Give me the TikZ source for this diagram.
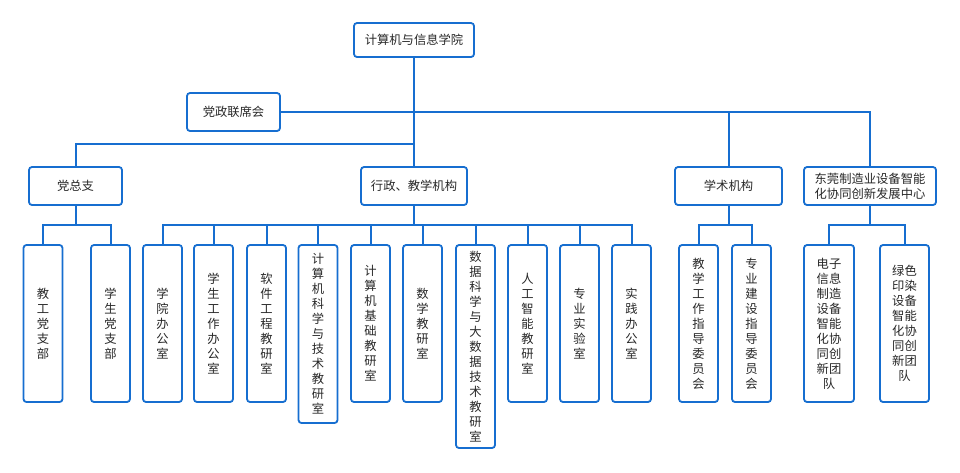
\documentclass[tikz,border=0pt]{standalone}
\usepackage{fontspec}
\setmainfont{Noto Sans CJK SC}
\definecolor{lineblue}{RGB}{22,110,208}
\definecolor{txt}{RGB}{40,40,40}
\begin{document}
\begin{tikzpicture}[x=1pt,y=-1pt,
  box/.style={draw=lineblue,line width=1.8pt,rounded corners=3pt,fill=white,text=txt,
    inner sep=0pt,align=center,font=\fontsize{12.3pt}{15pt}\selectfont},
  topbox/.style={box,minimum height=38pt},
  cbox/.style={box,minimum width=39pt},
  link/.style={draw=lineblue,line width=2pt}]
\useasboundingbox (0,0) rectangle (960,472);
\coordinate (bus) at (0,225);
\coordinate (j1) at (414,144);
% connectors (drawn first, boxes cover their ends)
\path (414,40) coordinate (rootc);
% top levels
\node[box,minimum width=120pt,minimum height=34pt] (root) at (414,40) {计算机与信息学院};
\node[topbox,minimum width=93pt] (dz) at (233.5,112) {党政联席会};
\node[topbox,minimum width=93pt] (dzz) at (75.5,186) {党总支};
\node[topbox,minimum width=106pt] (xz) at (414,186) {行政、教学机构};
\node[topbox,minimum width=107pt] (xs) at (728.5,186) {学术机构};
\node[topbox,minimum width=132pt] (dg) at (870,186) {东莞制造业设备智能\\化协同创新发展中心};
% children
\node[cbox,minimum height=157pt] (a1) at (43,323.5) {教\\工\\党\\支\\部};
\node[cbox,minimum height=157pt] (a2) at (110.5,323.5) {学\\生\\党\\支\\部};
\node[cbox,minimum height=157pt] (b1) at (162.5,323.5) {学\\院\\办\\公\\室};
\node[cbox,minimum height=157pt] (b2) at (213.5,323.5) {学\\生\\工\\作\\办\\公\\室};
\node[cbox,minimum height=157pt] (b3) at (266.5,323.5) {软\\件\\工\\程\\教\\研\\室};
\node[cbox,minimum height=178pt] (b4) at (318,334) {计\\算\\机\\科\\学\\与\\技\\术\\教\\研\\室};
\node[cbox,minimum height=157pt] (b5) at (370.5,323.5) {计\\算\\机\\基\\础\\教\\研\\室};
\node[cbox,minimum height=157pt] (b6) at (422.5,323.5) {数\\学\\教\\研\\室};
\node[cbox,minimum height=203pt] (b7) at (475.5,346.5) {数\\据\\科\\学\\与\\大\\数\\据\\技\\术\\教\\研\\室};
\node[cbox,minimum height=157pt] (b8) at (527.5,323.5) {人\\工\\智\\能\\教\\研\\室};
\node[cbox,minimum height=157pt] (b9) at (579.5,323.5) {专\\业\\实\\验\\室};
\node[cbox,minimum height=157pt] (b10) at (631.5,323.5) {实\\践\\办\\公\\室};
\node[cbox,minimum height=157pt] (c1) at (698.5,323.5) {教\\学\\工\\作\\指\\导\\委\\员\\会};
\node[cbox,minimum height=157pt] (c2) at (751.5,323.5) {专\\业\\建\\设\\指\\导\\委\\员\\会};
\node[box,minimum width=50pt,minimum height=157pt] (d1) at (829,323.5) {电子\\信息\\制造\\设备\\智能\\化协\\同创\\新团\\队};
\node[box,minimum width=49pt,minimum height=157pt] (d2) at (904.5,323.5) {绿色\\印染\\设备\\智能\\化协\\同创\\新团\\队};
% connectors
\draw[link] (root) -- (xz);
\draw[link] (dz) -| (dg);
\draw[link] (xs.north) -- (xs.north |- dz.east);
\draw[link] (dzz) |- (j1);
\foreach \c in {a1,a2}
  \draw[link] (dzz.south) -- (dzz.south |- bus) -| (\c.north);
\foreach \c in {b1,b2,b3,b4,b5,b6,b7,b8,b9,b10}
  \draw[link] (xz.south) -- (xz.south |- bus) -| (\c.north);
\foreach \c in {c1,c2}
  \draw[link] (xs.south) -- (xs.south |- bus) -| (\c.north);
\foreach \c in {d1,d2}
  \draw[link] (dg.south) -- (dg.south |- bus) -| (\c.north);
\end{tikzpicture}
\end{document}
